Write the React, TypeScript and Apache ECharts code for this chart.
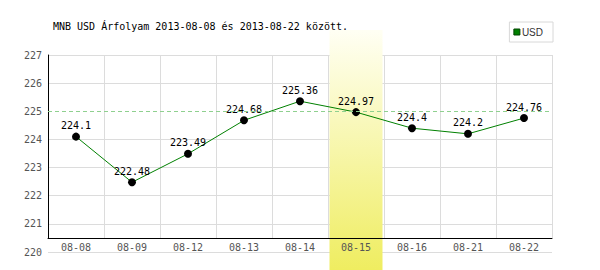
import React, { useEffect, useRef } from "react";
import * as echarts from "echarts";

const categories = ["08-08", "08-09", "08-12", "08-13", "08-14", "08-15", "08-16", "08-21", "08-22"];
const usdValues = [224.1, 222.48, 223.49, 224.68, 225.36, 224.97, 224.4, 224.2, 224.76];
const referenceLevel = 225;
const highlightCategory = "08-15";
const titleText = "MNB USD Árfolyam 2013-08-08 és 2013-08-22 között.";
const seriesName = "USD";

const MONO = "'DejaVu Sans Mono', monospace";
const REF_GREEN = "#8fd08f";

export default function App() {
  const ref = useRef<HTMLDivElement>(null);
  useEffect(() => {
    if (!ref.current) return;
    document.body.style.margin = "0";
    const chart = echarts.init(ref.current, undefined, { renderer: "svg" });
    const splitColors = [220, 221, 222, 223, 224, 225, 226, 227].map((v) =>
      v === referenceLevel ? "rgba(0,0,0,0)" : "#dcdcdc"
    );
    chart.setOption({
      animation: false,
      backgroundColor: "#fff",
      title: {
        text: titleText,
        left: 53,
        top: 21,
        padding: 0,
        textStyle: { fontFamily: MONO, fontSize: 10, fontWeight: "normal", color: "#000" },
      },
      legend: {
        right: 47,
        top: 22,
        orient: "horizontal",
        borderColor: "#d8d8d8",
        borderWidth: 1,
        padding: [5, 10, 5, 4],
        itemWidth: 6,
        itemHeight: 6,
        icon: "rect",
        textStyle: { fontFamily: "'Liberation Sans', Arial, sans-serif", fontSize: 10, color: "#333", padding: [0, 0, 0, -3] },
        data: [{ name: seriesName, itemStyle: { color: "#008000", borderColor: "#004400", borderWidth: 1 } }],
      },
      grid: [
        { left: 48, right: 48, top: 55, bottom: 32 },
        { left: 48, right: 48, top: 55, bottom: 18 },
      ],
      xAxis: [
        {
          type: "category",
          gridIndex: 0,
          data: categories,
          boundaryGap: true,
          z: 3,
          axisLine: { show: true, lineStyle: { color: "#000", width: 1 } },
          axisTick: { show: false },
          axisLabel: { margin: 4, fontFamily: MONO, fontSize: 10, color: "#555" },
          splitLine: { show: true, lineStyle: { color: "#dcdcdc", width: 1 } },
        },
        {
          type: "category",
          gridIndex: 1,
          data: categories,
          show: false,
        },
      ],
      yAxis: [
        {
          type: "value",
          gridIndex: 0,
          min: 220.5,
          max: 227,
          z: 3,
          axisLine: { show: true, lineStyle: { color: "#000", width: 1 } },
          axisTick: { show: false },
          axisLabel: { show: false },
          splitLine: { show: false },
        },
        {
          type: "value",
          gridIndex: 1,
          min: 220,
          max: 227,
          interval: 1,
          axisLine: { show: false },
          axisTick: { show: false },
          axisLabel: { margin: 6, fontFamily: MONO, fontSize: 10, color: "#555" },
          splitLine: { show: true, lineStyle: { color: splitColors, width: 1 } },
        },
      ],
      series: [
        {
          name: "ref",
          type: "line",
          xAxisIndex: 1,
          yAxisIndex: 1,
          data: categories.map(() => null),
          z: 0,
          silent: true,
          color: REF_GREEN,
          itemStyle: { color: REF_GREEN },
          lineStyle: { color: REF_GREEN },
          markLine: {
            silent: true,
            symbol: "none",
            label: { show: false },
            lineStyle: { color: REF_GREEN, type: [4, 3], width: 1, opacity: 1 },
            data: [{ yAxis: referenceLevel }],
          },
        },
        {
          name: seriesName,
          type: "line",
          xAxisIndex: 0,
          yAxisIndex: 0,
          data: usdValues,
          z: 4,
          color: "#008000",
          lineStyle: { color: "#008000", width: 1 },
          symbol: "circle",
          symbolSize: 8,
          itemStyle: { color: "#000" },
          label: {
            show: true,
            position: "top",
            distance: 2,
            fontFamily: MONO,
            fontSize: 10,
            color: "#000",
          },
        },
      ],
    });
    const cx = chart.convertToPixel({ xAxisIndex: 0 }, highlightCategory) as number;
    chart.setOption({
      graphic: [
        {
          type: "rect",
          z: 1,
          silent: true,
          shape: { x: cx - 26.5, y: 30, width: 53, height: 240 },
          style: {
            fill: new echarts.graphic.LinearGradient(0, 0, 0, 1, [
              { offset: 0, color: "#fffff4" },
              { offset: 1, color: "#efed60" },
            ]),
          },
        },
      ],
    });
    return () => chart.dispose();
  }, []);
  return <div ref={ref} style={{ width: 600, height: 270 }} />;
}
